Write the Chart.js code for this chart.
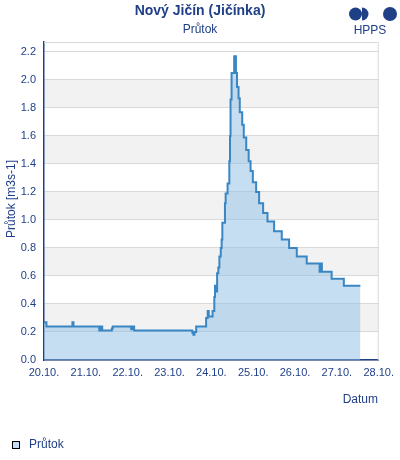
<!DOCTYPE html>
<html>
<head>
<meta charset="utf-8">
<script src="https://cdn.jsdelivr.net/npm/chart.js@4/dist/chart.umd.min.js"></script>
<style>
html,body{margin:0;padding:0;background:#fff;}
#wrap{width:400px;height:460px;}
</style>
</head>
<body>
<div id="wrap"><canvas id="c" width="400" height="460"></canvas></div>
<script>
// --- data (x in hours since 20.10. 00:00, y in m3/s) ---
const tickLabels = ['20.10.','21.10.','22.10.','23.10.','24.10.','25.10.','26.10.','27.10.','28.10.'];
const yTickValues = [0.0,0.2,0.4,0.6,0.8,1.0,1.2,1.4,1.6,1.8,2.0,2.2];
const hours = [0,1.4,16.3,16.9,31.7,32.6,33.4,38.9,39.4,50.0,50.9,51.7,85.1,85.7,86.3,87.3,
  93.0,93.9,94.5,96.7,97.7,98.1,98.9,99.3,100.0,100.6,101.4,101.9,102.3,103.8,104.2,105.3,
  106.3,106.7,107.0,107.6,109.1,110.1,110.7,111.6,112.3,113.7,114.6,116.0,117.4,118.5,119.8,
  121.7,123.4,125.7,128.2,132.0,136.4,140.6,145.0,150.7,158.1,158.9,159.4,165.0,172.0,181.5];
const flow = [0.27,0.24,0.27,0.24,0.21,0.24,0.21,0.225,0.24,0.22,0.24,0.21,0.195,0.18,0.20,0.24,
  0.30,0.35,0.31,0.35,0.45,0.53,0.49,0.62,0.66,0.74,0.80,0.86,0.98,1.12,1.19,1.26,
  1.42,1.60,1.86,2.05,2.17,2.05,1.95,1.87,1.77,1.68,1.59,1.50,1.42,1.35,1.27,
  1.20,1.12,1.05,0.99,0.92,0.86,0.80,0.74,0.69,0.63,0.69,0.63,0.58,0.53,0.53];
const seriesName = 'Průtok';
const titleText = 'Nový Jičín (Jičínka)';
const subtitleText = 'Průtok';
const yTitle = 'Průtok [m3s-1]';
const xTitle = 'Datum';

const NAVY = '#1f3f87';
const FONT = '"Liberation Sans", Arial, sans-serif';

const decor = {
  id: 'decor',
  beforeDraw(chart) {
    const {ctx, chartArea: a, scales: {y}} = chart;
    ctx.save();
    ctx.fillStyle = '#f2f2f2';
    for (let i = 1; i < yTickValues.length - 1; i += 2) {
      const t = y.getPixelForValue(yTickValues[i + 1]), b = y.getPixelForValue(yTickValues[i]);
      ctx.fillRect(a.left, t, a.right - a.left, b - t);
    }
    ctx.restore();
  },
  afterDraw(chart) {
    const {ctx, chartArea: a} = chart;
    ctx.save();
    // top/right frame
    ctx.strokeStyle = '#d9d9d9';
    ctx.lineWidth = 1;
    ctx.beginPath();
    ctx.moveTo(a.left, a.top + 0.5);
    ctx.lineTo(a.right - 0.5, a.top + 0.5);
    ctx.lineTo(a.right - 0.5, a.bottom);
    ctx.stroke();
    // titles
    ctx.fillStyle = NAVY;
    ctx.textAlign = 'center';
    ctx.textBaseline = 'middle';
    ctx.font = 'bold 14px ' + FONT;
    ctx.fillText(titleText, 200, 11);
    ctx.font = '12px ' + FONT;
    ctx.fillText(subtitleText, 200, 30);
    // logo
    ctx.beginPath(); ctx.arc(355.5, 14, 6.5, 0, Math.PI * 2); ctx.fill();
    ctx.beginPath(); ctx.arc(362, 14, 6.5, -Math.PI / 2, Math.PI / 2); ctx.closePath(); ctx.fill();
    ctx.beginPath(); ctx.arc(390, 14, 7, 0, Math.PI * 2); ctx.fill();
    ctx.font = '12px ' + FONT;
    ctx.fillText('HPPS', 370, 31);
    // y title
    ctx.save();
    ctx.translate(12, 199);
    ctx.rotate(-Math.PI / 2);
    ctx.font = '12px ' + FONT;
    ctx.fillText(yTitle, 0, 0);
    ctx.restore();
    // x title
    ctx.textAlign = 'right';
    ctx.font = '12px ' + FONT;
    ctx.fillText(xTitle, 378, 400);
    // legend
    ctx.fillStyle = '#c6ddf3';
    ctx.fillRect(12.5, 441.5, 7, 7);
    ctx.strokeStyle = '#000';
    ctx.lineWidth = 1;
    ctx.strokeRect(12.5, 441.5, 7, 7);
    ctx.fillStyle = NAVY;
    ctx.textAlign = 'left';
    ctx.fillText(seriesName, 29, 445);
    ctx.restore();
  }
};

new Chart(document.getElementById('c'), {
  type: 'line',
  data: {
    datasets: [{
      label: seriesName,
      data: hours.map((h, i) => ({x: h, y: flow[i]})),
      stepped: 'before',
      borderColor: '#3a86c3',
      borderWidth: 2,
      backgroundColor: 'rgba(140,190,230,0.5)',
      fill: 'origin',
      pointRadius: 0,
      tension: 0
    }]
  },
  options: {
    responsive: false,
    animation: false,
    layout: {padding: {top: 42, right: 20, left: 0, bottom: 0}},
    plugins: {legend: {display: false}, title: {display: false}, tooltip: {enabled: false}},
    scales: {
      x: {
        type: 'linear',
        min: 0, max: 192,
        afterFit(s) { s.height = 100; },
        grid: {display: true, color: 'transparent', drawTicks: false},
        border: {color: NAVY, width: 1.5},
        ticks: {
          stepSize: 24, autoSkip: false, maxRotation: 0, padding: 6,
          color: NAVY, font: {family: FONT, size: 11},
          callback: v => tickLabels[Math.round(v / 24)]
        }
      },
      y: {
        min: 0, max: 2.2714,
        afterFit(s) { s.width = 44; },
        afterBuildTicks(s) { s.ticks = yTickValues.map(v => ({value: v})); },
        grid: {color: '#d9d9d9', drawTicks: false},
        border: {color: NAVY, width: 1.5},
        ticks: {
          padding: 8, autoSkip: false,
          color: NAVY, font: {family: FONT, size: 11},
          callback: v => Number(v).toFixed(1)
        }
      }
    }
  },
  plugins: [decor]
});
</script>
</body>
</html>
